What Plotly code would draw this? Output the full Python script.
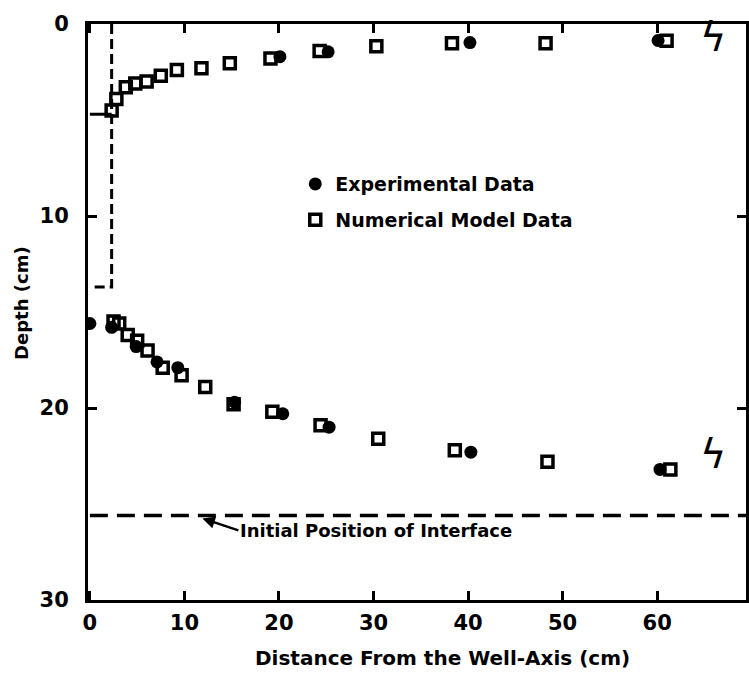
import plotly.graph_objects as go

# ---- data (cm) ----
# upper (free-surface) profile
num_upper_x = [2.3, 2.8, 3.8, 4.8, 6.0, 7.5, 9.2, 11.8, 14.8, 19.1, 24.3, 30.3, 38.3, 48.2, 61.0]
num_upper_y = [4.5, 3.9, 3.3, 3.1, 3.0, 2.7, 2.4, 2.3, 2.04, 1.8, 1.4, 1.16, 1.0, 1.0, 0.87]
exp_upper_x = [20.1, 25.2, 40.2, 60.1]
exp_upper_y = [1.7, 1.45, 0.97, 0.86]

# lower (interface) profile
num_lower_x = [2.5, 3.1, 4.0, 5.0, 6.1, 7.7, 9.7, 12.2, 15.2, 19.3, 24.4, 30.5, 38.6, 48.4, 61.4]
num_lower_y = [15.5, 15.6, 16.2, 16.5, 17.0, 17.9, 18.3, 18.9, 19.8, 20.2, 20.9, 21.6, 22.2, 22.8, 23.2]
exp_lower_x = [0.0, 2.3, 4.9, 7.1, 9.3, 15.3, 20.4, 25.3, 40.3, 60.3]
exp_lower_y = [15.6, 15.8, 16.8, 17.6, 17.9, 19.7, 20.3, 21.0, 22.3, 23.2]

initial_interface = 25.6
well_radius = 2.3
well_water_level = 4.7
well_screen_bottom = 13.7

x_ticks = [0, 10, 20, 30, 40, 50, 60]
y_ticks = [0, 10, 20, 30]
x_max = 69.4

FONT = "DejaVu Sans"
fig = go.Figure()

# well sketch
fig.add_trace(go.Scatter(x=[0, well_radius], y=[well_water_level, well_water_level], mode="lines",
                         line=dict(color="black", width=3), showlegend=False, hoverinfo="skip"))
fig.add_trace(go.Scatter(x=[well_radius, well_radius, 0], y=[0, well_screen_bottom, well_screen_bottom],
                         mode="lines", line=dict(color="black", width=3, dash="10px,5px"),
                         showlegend=False, hoverinfo="skip"))
# initial interface
fig.add_trace(go.Scatter(x=[0, x_max], y=[initial_interface, initial_interface], mode="lines",
                         line=dict(color="black", width=3.5, dash="18px,9px"),
                         showlegend=False, hoverinfo="skip"))

sq = dict(symbol="square-open", size=11, color="black", line=dict(width=3.5, color="black"))
ci = dict(symbol="circle", size=13, color="black", line=dict(width=0))

fig.add_trace(go.Scatter(x=exp_upper_x + exp_lower_x, y=exp_upper_y + exp_lower_y, mode="markers",
                         marker=ci, name="Experimental Data", legendgroup="a"))
fig.add_trace(go.Scatter(x=num_upper_x + num_lower_x, y=num_upper_y + num_lower_y, mode="markers",
                         marker=sq, name="Numerical Model Data", legendgroup="b"))

fig.add_annotation(x=11.9, y=25.75, ax=36, ay=12, text="Initial Position of Interface",
                   xanchor="left", yanchor="middle", showarrow=True, arrowhead=2, arrowsize=1,
                   arrowwidth=2.5, arrowcolor="black",
                   font=dict(family=FONT, size=18, color="black", weight="bold"))

for yy in [0.7, 22.4]:
    fig.add_annotation(x=65.9, y=yy, text="ϟ", showarrow=False,
                       font=dict(family="DejaVu Sans", size=40, color="black"))

# axis titles placed as annotations
fig.add_annotation(xref="paper", yref="paper", x=-0.1, y=0.516, text="Depth (cm)",
                   textangle=-90, showarrow=False, xanchor="center", yanchor="middle",
                   font=dict(family=FONT, size=18, color="black", weight="bold"))
fig.add_annotation(xref="paper", yref="paper", x=0.539, y=-0.1, 
                   text="Distance From the Well-Axis (cm)",
                   showarrow=False, xanchor="center", yanchor="middle",
                   font=dict(family=FONT, size=20, color="black", weight="bold"))

axis_common = dict(showline=True, linewidth=3, linecolor="black", mirror="ticks",
                   ticks="inside", ticklen=9, tickwidth=2.5, tickcolor="black",
                   showgrid=False, zeroline=False,
                   tickfont=dict(family=FONT, size=21, color="black", weight="bold"))

fig.update_xaxes(range=[-0.2, x_max], tickvals=x_ticks, ticklabelstandoff=2, **axis_common)
fig.update_yaxes(range=[30, 0], tickvals=y_ticks, ticklabelstandoff=12, **axis_common)

fig.update_layout(
    width=749, height=673,
    margin=dict(l=88, r=0, t=24, b=73),
    paper_bgcolor="white", plot_bgcolor="white",
    legend=dict(x=0.315, y=0.755, xanchor="left", yanchor="top", tracegroupgap=8,
                bgcolor="rgba(0,0,0,0)",
                font=dict(family=FONT, size=19, color="black", weight="bold")),
)

fig.write_html("out.html")
